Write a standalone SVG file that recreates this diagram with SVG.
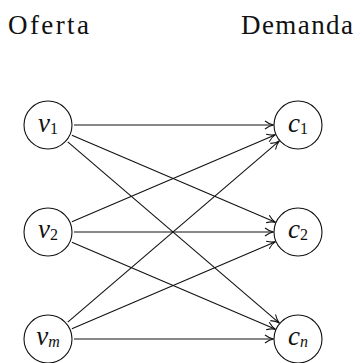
<svg xmlns="http://www.w3.org/2000/svg" width="362" height="363" viewBox="0 0 362 363">
  <style>
    .node circle { fill: #fff; stroke: #111; stroke-width: 1.1; }
    #edges line { stroke: #111; stroke-width: 1.1; fill: none; marker-end: url(#arrow); }
  </style>
  <defs>
    <marker id="arrow" markerUnits="userSpaceOnUse" markerWidth="12" markerHeight="12" viewBox="-10 -6 12 12" refX="0" refY="0" orient="auto">
      <path d="M -8.5 -4 Q -4 -0.6 0 0 Q -4 0.6 -8.5 4" fill="none" stroke="#111" stroke-width="1.1"/>
    </marker>
  </defs>

  <g font-family="Liberation Serif, DejaVu Serif, serif" font-size="27" fill="#111">
    <text x="8" y="34" textLength="81" lengthAdjust="spacing">Oferta</text>
    <text x="241" y="34" textLength="112" lengthAdjust="spacing">Demanda</text>
  </g>

  <g id="edges">
    <line x1="74" y1="125" x2="273.5" y2="125"/>
    <line x1="71.9" y1="135.23" x2="275.48" y2="222.36"/>
    <line x1="67.75" y1="141.91" x2="279.39" y2="323.07"/>
    <line x1="71.9" y1="221.77" x2="275.48" y2="134.64"/>
    <line x1="74" y1="232" x2="273.5" y2="232"/>
    <line x1="71.9" y1="242.23" x2="275.48" y2="329.36"/>
    <line x1="67.75" y1="322.09" x2="279.39" y2="140.93"/>
    <line x1="71.9" y1="328.77" x2="275.48" y2="241.64"/>
    <line x1="74" y1="339" x2="273.5" y2="339"/>
  </g>

  <g font-family="Liberation Serif, DejaVu Serif, serif" font-style="italic" font-size="27" fill="#111" text-anchor="middle">
    <g id="v1" class="node">
      <circle cx="48" cy="125" r="24"/>
      <text x="48" y="132">v<tspan font-size="16" font-style="normal" dy="2">1</tspan></text>
    </g>
    <g id="v2" class="node">
      <circle cx="48" cy="232" r="24"/>
      <text x="48" y="238">v<tspan font-size="16" font-style="normal" dy="2">2</tspan></text>
    </g>
    <g id="vm" class="node">
      <circle cx="48" cy="339" r="24"/>
      <text x="48" y="345">v<tspan font-size="16" dy="2">m</tspan></text>
    </g>
    <g id="c1" class="node">
      <circle cx="298" cy="125" r="24"/>
      <text x="298" y="132">c<tspan font-size="16" font-style="normal" dy="2">1</tspan></text>
    </g>
    <g id="c2" class="node">
      <circle cx="298" cy="232" r="24"/>
      <text x="298" y="238">c<tspan font-size="16" font-style="normal" dy="2">2</tspan></text>
    </g>
    <g id="cn" class="node">
      <circle cx="298" cy="339" r="24"/>
      <text x="298" y="345">c<tspan font-size="16" dy="2">n</tspan></text>
    </g>
  </g>
</svg>
